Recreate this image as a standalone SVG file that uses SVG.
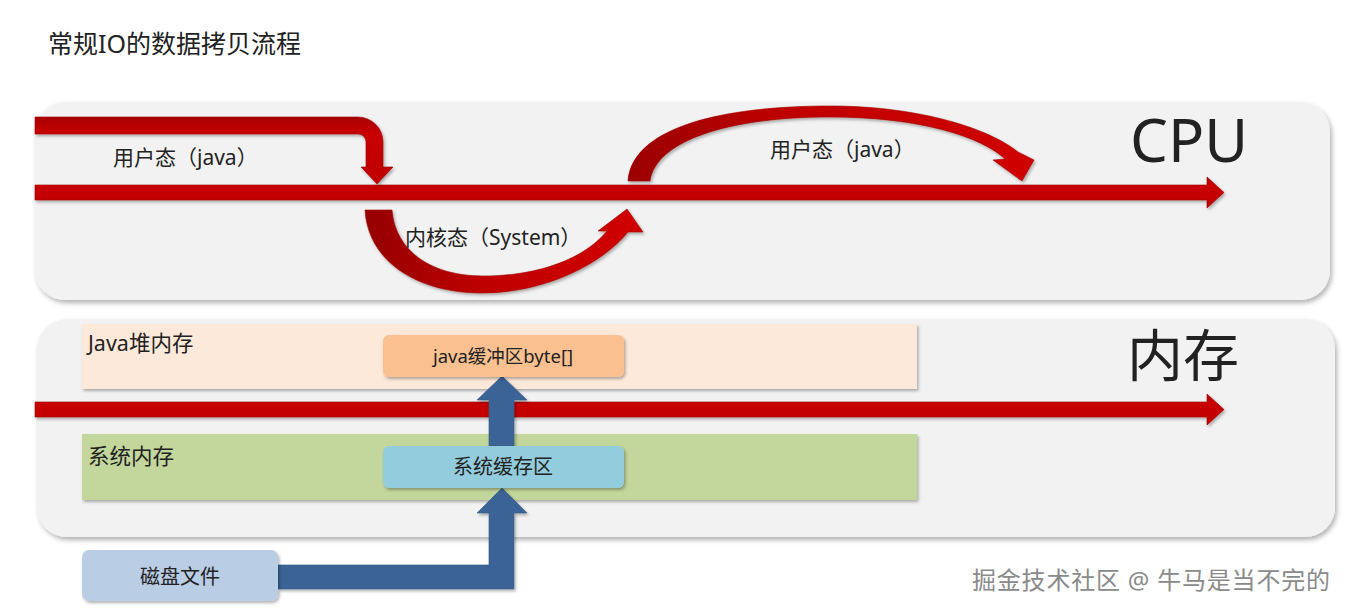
<svg xmlns="http://www.w3.org/2000/svg" width="1350" height="613" viewBox="0 0 1350 613">
<defs>
<filter id="sh" x="-10%" y="-10%" width="120%" height="130%">
<feDropShadow dx="2" dy="3" stdDeviation="2.5" flood-color="#000" flood-opacity="0.3"/>
</filter>
<filter id="shs" x="-10%" y="-10%" width="120%" height="140%">
<feDropShadow dx="1.5" dy="2" stdDeviation="1.5" flood-color="#000" flood-opacity="0.3"/>
</filter>
<linearGradient id="redv" x1="0" y1="0" x2="0" y2="1">
<stop offset="0" stop-color="#a80000"/>
<stop offset="0.25" stop-color="#c80000"/>
<stop offset="1" stop-color="#c00000"/>
</linearGradient>
<linearGradient id="arcK" x1="0" y1="0" x2="1" y2="0">
<stop offset="0" stop-color="#950000"/>
<stop offset="0.45" stop-color="#c00000"/>
<stop offset="1" stop-color="#d00000"/>
</linearGradient>
<linearGradient id="arcU" x1="0" y1="0" x2="1" y2="0">
<stop offset="0" stop-color="#9a0000"/>
<stop offset="0.4" stop-color="#c00000"/>
<stop offset="1" stop-color="#d00000"/>
</linearGradient>
</defs>
<style>
text{font-family:"Noto Sans","Noto Sans CJK SC",sans-serif;fill:#222}
.panel{fill:#f2f2f2;filter:url(#sh)}
.red{fill:url(#redv);stroke:#a00000;stroke-width:0.6;filter:url(#shs)}
.blue{fill:#3b6496;stroke:#355a88;stroke-width:0.6;filter:url(#shs)}
.box{filter:url(#shs)}
.lbl{font-size:21px}
.area{font-size:21.5px}
.big{font-size:60px}
.mid{font-size:20px;text-anchor:middle}
</style>
<rect width="1350" height="613" fill="#ffffff"/>
<text id="title" x="48" y="53" style="font-size:25px">常规IO的数据拷贝流程</text>

<g id="cpu-panel">
<rect class="panel" x="35" y="102" width="1295" height="198" rx="30"/>
<text x="1130" y="162" class="big">CPU</text>
</g>

<g id="memory-panel">
<rect class="panel" x="37" y="319" width="1298" height="218" rx="30"/>
<text x="1127" y="376" style="font-size:56px">内存</text>
</g>

<g id="java-heap">
<rect x="82" y="324" width="835" height="65" fill="#fde9d9" class="box"/>
<text x="88" y="351" class="area">Java堆内存</text>
</g>

<g id="system-memory">
<rect x="82" y="434" width="835" height="66" fill="#c3d69b" class="box"/>
<text x="88" y="464" class="area">系统内存</text>
</g>

<g id="connectors">
<path class="red" d="M35,185 H1207 V177 L1224,192.5 L1207,208 V200 H35 Z"/>
<path class="red" d="M35,117 H358 A25,25 0 0 1 383,142 V167 H393 L377,184 L361,167 H366 V142 A8,8 0 0 0 358,134 H35 Z"/>
<path class="red" style="fill:url(#arcK)" d="M365,210 C368,262 418,293 482,293 C545,293 602,264 628,232 L643,232 L627,209 L598,231 L607,231 C585,258 540,276 483,276 C430,276 395,250 392,210 Z"/>
<path class="red" style="fill:url(#arcU)" d="M628,181 C632,128 720,106 830,106 C920,106 990,129 1018,152 L1034,160 L1022,181 L993,160 L1005,159 C982,137 920,117 830,117 C730,117 656,140 650,181 Z"/>
<path class="red" d="M35,402 H1207 V394 L1224,409.5 L1207,425 V417 H35 Z"/>
<path class="blue" d="M489,446 V400 H477 L502,376 L527,400 H514 V446 Z"/>
<path class="blue" d="M278,565 H489 V513 H477 L502,488 L527,513 H514 V589 H278 Z"/>
</g>

<g id="labels">
<text x="113" y="165" class="lbl">用户态（java）</text>
<text x="405" y="245" class="lbl">内核态（System）</text>
<text x="770" y="157" class="lbl">用户态（java）</text>
</g>

<g id="java-buffer">
<rect x="383" y="335" width="241" height="42" rx="6" fill="#fac090" class="box"/>
<text x="503" y="363" class="mid" style="font-size:18.5px">java缓冲区byte[]</text>
</g>

<g id="system-buffer">
<rect x="383" y="446" width="241" height="42" rx="6" fill="#93cddd" class="box"/>
<text x="503" y="474" class="mid">系统缓存区</text>
</g>

<g id="disk-file">
<rect x="82" y="550" width="196" height="51" rx="7" fill="#b9cde5" class="box"/>
<text x="180" y="584" class="mid">磁盘文件</text>
</g>

<text id="watermark" x="972" y="589" textLength="358" lengthAdjust="spacing" style="font-size:24px;fill:#8a8a8a;stroke:#ffffff;stroke-width:2.5px;paint-order:stroke">掘金技术社区 @ 牛马是当不完的</text>
</svg>
